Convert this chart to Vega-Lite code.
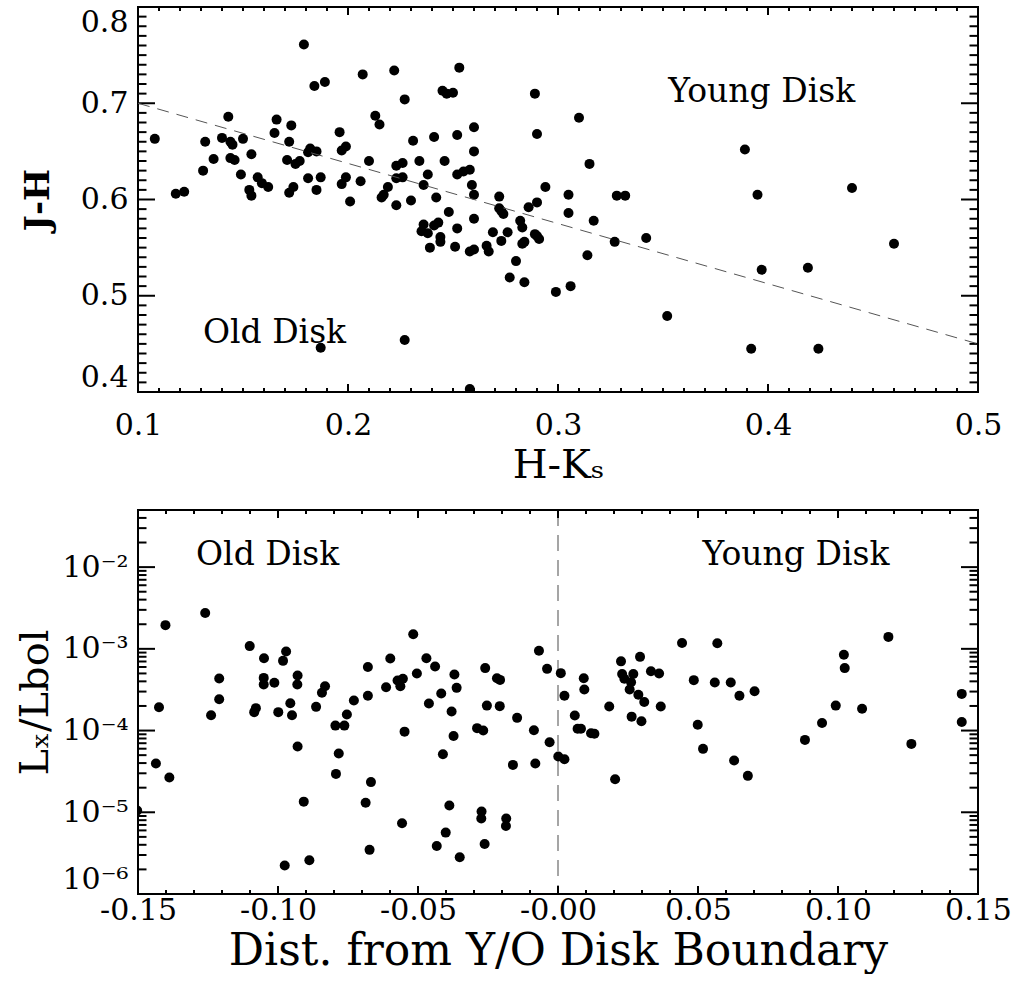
{
  "$schema": "https://vega.github.io/schema/vega-lite/v6.json",
  "background": "white",
  "padding": {"left": 14, "top": 5, "right": 0, "bottom": 0},
  "spacing": 22,
  "config": {
    "view": {"stroke": "#000", "strokeWidth": 2},
    "axis": {
      "labelFont": "DejaVu Serif", "labelFontSize": 30, "labelColor": "#000",
      "titleFont": "DejaVu Serif", "titleFontSize": 40, "titleColor": "#000", "titleFontWeight": "normal",
      "domain": false, "grid": false, "ticks": false, "tickSize": 0,
      "labelOverlap": false, "labelBound": false
    },
    "rule": {"color": "#000", "strokeWidth": 2}
  },
  "datasets": {
    "top": [
      {"hk":0.108,"jh":0.663},{"hk":0.118,"jh":0.606},{"hk":0.122,"jh":0.608},{"hk":0.131,"jh":0.630},{"hk":0.132,"jh":0.660},
      {"hk":0.136,"jh":0.642},{"hk":0.140,"jh":0.664},{"hk":0.143,"jh":0.686},{"hk":0.144,"jh":0.660},{"hk":0.145,"jh":0.657},
      {"hk":0.144,"jh":0.643},{"hk":0.146,"jh":0.641},{"hk":0.150,"jh":0.663},{"hk":0.149,"jh":0.626},{"hk":0.154,"jh":0.647},
      {"hk":0.153,"jh":0.610},{"hk":0.154,"jh":0.604},{"hk":0.157,"jh":0.623},{"hk":0.159,"jh":0.617},{"hk":0.162,"jh":0.613},
      {"hk":0.165,"jh":0.669},{"hk":0.166,"jh":0.683},{"hk":0.171,"jh":0.641},{"hk":0.172,"jh":0.660},{"hk":0.173,"jh":0.677},
      {"hk":0.172,"jh":0.607},{"hk":0.174,"jh":0.613},{"hk":0.175,"jh":0.637},{"hk":0.177,"jh":0.640},{"hk":0.179,"jh":0.761},
      {"hk":0.181,"jh":0.649},{"hk":0.182,"jh":0.653},{"hk":0.185,"jh":0.650},{"hk":0.181,"jh":0.622},{"hk":0.185,"jh":0.610},
      {"hk":0.187,"jh":0.623},{"hk":0.184,"jh":0.718},{"hk":0.189,"jh":0.722},{"hk":0.187,"jh":0.446},{"hk":0.196,"jh":0.670},
      {"hk":0.197,"jh":0.651},{"hk":0.199,"jh":0.655},{"hk":0.197,"jh":0.616},{"hk":0.199,"jh":0.623},{"hk":0.201,"jh":0.598},
      {"hk":0.207,"jh":0.730},{"hk":0.206,"jh":0.619},{"hk":0.210,"jh":0.640},{"hk":0.213,"jh":0.687},{"hk":0.215,"jh":0.678},
      {"hk":0.216,"jh":0.602},{"hk":0.217,"jh":0.605},{"hk":0.219,"jh":0.613},{"hk":0.222,"jh":0.734},{"hk":0.223,"jh":0.594},
      {"hk":0.223,"jh":0.635},{"hk":0.223,"jh":0.622},{"hk":0.226,"jh":0.638},{"hk":0.226,"jh":0.623},{"hk":0.227,"jh":0.704},
      {"hk":0.227,"jh":0.454},{"hk":0.230,"jh":0.599},{"hk":0.231,"jh":0.661},{"hk":0.234,"jh":0.640},{"hk":0.235,"jh":0.567},
      {"hk":0.236,"jh":0.574},{"hk":0.238,"jh":0.565},{"hk":0.236,"jh":0.615},{"hk":0.238,"jh":0.626},{"hk":0.239,"jh":0.550},
      {"hk":0.241,"jh":0.665},{"hk":0.241,"jh":0.573},{"hk":0.243,"jh":0.576},{"hk":0.242,"jh":0.602},{"hk":0.244,"jh":0.561},
      {"hk":0.244,"jh":0.556},{"hk":0.246,"jh":0.640},{"hk":0.245,"jh":0.713},{"hk":0.247,"jh":0.710},{"hk":0.250,"jh":0.711},
      {"hk":0.248,"jh":0.587},{"hk":0.251,"jh":0.551},{"hk":0.252,"jh":0.570},{"hk":0.252,"jh":0.626},{"hk":0.252,"jh":0.667},
      {"hk":0.253,"jh":0.737},{"hk":0.255,"jh":0.629},{"hk":0.258,"jh":0.631},{"hk":0.258,"jh":0.546},{"hk":0.260,"jh":0.548},
      {"hk":0.259,"jh":0.615},{"hk":0.260,"jh":0.605},{"hk":0.260,"jh":0.650},{"hk":0.260,"jh":0.675},{"hk":0.260,"jh":0.580},
      {"hk":0.258,"jh":0.403},{"hk":0.235,"jh":0.394},{"hk":0.266,"jh":0.552},{"hk":0.267,"jh":0.546},{"hk":0.269,"jh":0.566},
      {"hk":0.272,"jh":0.603},{"hk":0.272,"jh":0.591},{"hk":0.273,"jh":0.588},{"hk":0.274,"jh":0.585},{"hk":0.273,"jh":0.557},
      {"hk":0.276,"jh":0.566},{"hk":0.277,"jh":0.519},{"hk":0.280,"jh":0.536},{"hk":0.282,"jh":0.578},{"hk":0.283,"jh":0.571},
      {"hk":0.283,"jh":0.554},{"hk":0.284,"jh":0.556},{"hk":0.284,"jh":0.514},{"hk":0.286,"jh":0.592},{"hk":0.289,"jh":0.564},
      {"hk":0.290,"jh":0.562},{"hk":0.291,"jh":0.559},{"hk":0.290,"jh":0.597},{"hk":0.289,"jh":0.710},{"hk":0.290,"jh":0.668},
      {"hk":0.294,"jh":0.613},{"hk":0.299,"jh":0.504},{"hk":0.310,"jh":0.685},{"hk":0.315,"jh":0.637},{"hk":0.305,"jh":0.605},
      {"hk":0.305,"jh":0.586},{"hk":0.317,"jh":0.578},{"hk":0.314,"jh":0.542},{"hk":0.306,"jh":0.510},{"hk":0.328,"jh":0.604},
      {"hk":0.332,"jh":0.604},{"hk":0.327,"jh":0.556},{"hk":0.342,"jh":0.560},{"hk":0.352,"jh":0.479},{"hk":0.389,"jh":0.652},
      {"hk":0.395,"jh":0.605},{"hk":0.397,"jh":0.527},{"hk":0.392,"jh":0.445},{"hk":0.419,"jh":0.529},{"hk":0.424,"jh":0.445},
      {"hk":0.440,"jh":0.612},{"hk":0.460,"jh":0.554}
    ],
    "boundary": [{"hk":0.1,"jh":0.70},{"hk":0.5,"jh":0.45}],
    "bottom": [
      {"d":-0.1402,"lx":1.95e-3},{"d":-0.1425,"lx":1.93e-4},{"d":-0.1436,"lx":3.95e-5},{"d":-0.1388,"lx":2.66e-5},{"d":-0.1260,"lx":2.74e-3},
      {"d":-0.1239,"lx":1.54e-4},{"d":-0.1210,"lx":4.33e-4},{"d":-0.1210,"lx":2.42e-4},{"d":-0.1101,"lx":1.08e-3},{"d":-0.1050,"lx":7.69e-4},
      {"d":-0.1051,"lx":4.41e-4},{"d":-0.1051,"lx":3.66e-4},{"d":-0.1013,"lx":3.84e-4},{"d":-0.1085,"lx":1.68e-4},{"d":-0.1079,"lx":1.88e-4},
      {"d":-0.0999,"lx":1.68e-4},{"d":-0.0982,"lx":7.13e-4},{"d":-0.0971,"lx":9.27e-4},{"d":-0.0930,"lx":4.71e-4},{"d":-0.0931,"lx":3.66e-4},
      {"d":-0.0956,"lx":2.16e-4},{"d":-0.0950,"lx":1.54e-4},{"d":-0.0930,"lx":6.37e-5},{"d":-0.0908,"lx":1.35e-5},{"d":-0.0976,"lx":2.23e-6},
      {"d":-0.0888,"lx":2.59e-6},{"d":-0.0864,"lx":1.95e-4},{"d":-0.0843,"lx":2.90e-4},{"d":-0.0832,"lx":3.49e-4},{"d":-0.0795,"lx":1.15e-4},
      {"d":-0.0763,"lx":1.15e-4},{"d":-0.0754,"lx":1.57e-4},{"d":-0.0783,"lx":5.24e-5},{"d":-0.0793,"lx":2.95e-5},{"d":-0.0729,"lx":2.33e-4},
      {"d":-0.0679,"lx":6.00e-4},{"d":-0.0679,"lx":2.66e-4},{"d":-0.0668,"lx":2.34e-5},{"d":-0.0687,"lx":1.31e-5},{"d":-0.0673,"lx":3.47e-6},
      {"d":-0.0614,"lx":3.39e-4},{"d":-0.0599,"lx":7.60e-4},{"d":-0.0573,"lx":4.09e-4},{"d":-0.0563,"lx":3.49e-4},{"d":-0.0554,"lx":4.30e-4},
      {"d":-0.0548,"lx":9.70e-5},{"d":-0.0557,"lx":7.35e-6},{"d":-0.0517,"lx":1.51e-3},{"d":-0.0504,"lx":4.99e-4},{"d":-0.0470,"lx":7.69e-4},
      {"d":-0.0461,"lx":2.14e-4},{"d":-0.0439,"lx":6.07e-4},{"d":-0.0417,"lx":2.84e-4},{"d":-0.0411,"lx":5.14e-5},{"d":-0.0388,"lx":1.21e-5},
      {"d":-0.0401,"lx":5.64e-6},{"d":-0.0433,"lx":3.87e-6},{"d":-0.0370,"lx":4.85e-4},{"d":-0.0362,"lx":3.33e-4},{"d":-0.0380,"lx":1.71e-4},
      {"d":-0.0373,"lx":8.60e-5},{"d":-0.0351,"lx":2.82e-6},{"d":-0.0289,"lx":1.07e-4},{"d":-0.0267,"lx":1.00e-4},{"d":-0.0260,"lx":5.81e-4},
      {"d":-0.0254,"lx":2.02e-4},{"d":-0.0273,"lx":1.02e-5},{"d":-0.0274,"lx":8.38e-6},{"d":-0.0262,"lx":4.10e-6},{"d":-0.0218,"lx":4.37e-4},
      {"d":-0.0207,"lx":4.17e-4},{"d":-0.0208,"lx":1.99e-4},{"d":-0.0185,"lx":8.38e-6},{"d":-0.0186,"lx":6.81e-6},{"d":-0.0161,"lx":3.80e-5},
      {"d":-0.0146,"lx":1.43e-4},{"d":-0.0086,"lx":1.01e-4},{"d":-0.0081,"lx":3.95e-5},{"d":-0.0068,"lx":9.46e-4},{"d":-0.0039,"lx":5.69e-4},
      {"d":-0.0030,"lx":7.20e-5},{"d":0.0001,"lx":4.81e-5},{"d":0.0023,"lx":4.46e-5},{"d":0.0010,"lx":5.04e-4},{"d":0.0023,"lx":2.66e-4},
      {"d":0.0060,"lx":1.53e-4},{"d":0.0070,"lx":1.05e-4},{"d":0.0082,"lx":1.05e-4},{"d":0.0092,"lx":4.37e-4},{"d":0.0094,"lx":3.18e-4},
      {"d":0.0118,"lx":9.29e-5},{"d":0.0130,"lx":9.12e-5},{"d":0.0183,"lx":1.97e-4},{"d":0.0204,"lx":2.54e-5},{"d":0.0225,"lx":7.03e-4},
      {"d":0.0229,"lx":4.93e-4},{"d":0.0237,"lx":4.30e-4},{"d":0.0269,"lx":4.93e-4},{"d":0.0261,"lx":3.91e-4},{"d":0.0256,"lx":3.18e-4},
      {"d":0.0293,"lx":7.98e-4},{"d":0.0287,"lx":2.74e-4},{"d":0.0308,"lx":2.24e-4},{"d":0.0263,"lx":1.48e-4},{"d":0.0298,"lx":1.30e-4},
      {"d":0.0332,"lx":5.33e-4},{"d":0.0361,"lx":4.99e-4},{"d":0.0367,"lx":1.97e-4},{"d":0.0443,"lx":1.18e-3},{"d":0.0485,"lx":4.14e-4},
      {"d":0.0499,"lx":1.18e-4},{"d":0.0518,"lx":5.97e-5},{"d":0.0569,"lx":1.17e-3},{"d":0.0560,"lx":3.87e-4},{"d":0.0617,"lx":3.87e-4},
      {"d":0.0648,"lx":2.66e-4},{"d":0.0702,"lx":3.03e-4},{"d":0.0629,"lx":4.30e-5},{"d":0.0678,"lx":2.79e-5},{"d":0.0882,"lx":7.69e-5},
      {"d":0.0943,"lx":1.24e-4},{"d":0.0992,"lx":2.02e-4},{"d":0.1021,"lx":8.45e-4},{"d":0.1024,"lx":5.81e-4},{"d":0.1086,"lx":1.85e-4},
      {"d":0.1180,"lx":1.40e-3},{"d":0.1262,"lx":6.87e-5},{"d":0.1442,"lx":2.81e-4},{"d":0.1442,"lx":1.27e-4},{"d":-0.1503,"lx":1.05e-5}
    ],
    "topXTicks": [
      {"v":0.10,"k":"major"},{"v":0.11,"k":"minor"},{"v":0.12,"k":"minor"},{"v":0.13,"k":"minor"},{"v":0.14,"k":"minor"},{"v":0.15,"k":"minor"},{"v":0.16,"k":"minor"},{"v":0.17,"k":"minor"},{"v":0.18,"k":"minor"},{"v":0.19,"k":"minor"},
      {"v":0.20,"k":"major"},{"v":0.21,"k":"minor"},{"v":0.22,"k":"minor"},{"v":0.23,"k":"minor"},{"v":0.24,"k":"minor"},{"v":0.25,"k":"minor"},{"v":0.26,"k":"minor"},{"v":0.27,"k":"minor"},{"v":0.28,"k":"minor"},{"v":0.29,"k":"minor"},
      {"v":0.30,"k":"major"},{"v":0.31,"k":"minor"},{"v":0.32,"k":"minor"},{"v":0.33,"k":"minor"},{"v":0.34,"k":"minor"},{"v":0.35,"k":"minor"},{"v":0.36,"k":"minor"},{"v":0.37,"k":"minor"},{"v":0.38,"k":"minor"},{"v":0.39,"k":"minor"},
      {"v":0.40,"k":"major"},{"v":0.41,"k":"minor"},{"v":0.42,"k":"minor"},{"v":0.43,"k":"minor"},{"v":0.44,"k":"minor"},{"v":0.45,"k":"minor"},{"v":0.46,"k":"minor"},{"v":0.47,"k":"minor"},{"v":0.48,"k":"minor"},{"v":0.49,"k":"minor"},
      {"v":0.50,"k":"major"}
    ],
    "topYTicks": [
      {"v":0.40,"k":"major"},{"v":0.41,"k":"minor"},{"v":0.42,"k":"minor"},{"v":0.43,"k":"minor"},{"v":0.44,"k":"minor"},{"v":0.45,"k":"minor"},{"v":0.46,"k":"minor"},{"v":0.47,"k":"minor"},{"v":0.48,"k":"minor"},{"v":0.49,"k":"minor"},
      {"v":0.50,"k":"major"},{"v":0.51,"k":"minor"},{"v":0.52,"k":"minor"},{"v":0.53,"k":"minor"},{"v":0.54,"k":"minor"},{"v":0.55,"k":"minor"},{"v":0.56,"k":"minor"},{"v":0.57,"k":"minor"},{"v":0.58,"k":"minor"},{"v":0.59,"k":"minor"},
      {"v":0.60,"k":"major"},{"v":0.61,"k":"minor"},{"v":0.62,"k":"minor"},{"v":0.63,"k":"minor"},{"v":0.64,"k":"minor"},{"v":0.65,"k":"minor"},{"v":0.66,"k":"minor"},{"v":0.67,"k":"minor"},{"v":0.68,"k":"minor"},{"v":0.69,"k":"minor"},
      {"v":0.70,"k":"major"},{"v":0.71,"k":"minor"},{"v":0.72,"k":"minor"},{"v":0.73,"k":"minor"},{"v":0.74,"k":"minor"},{"v":0.75,"k":"minor"},{"v":0.76,"k":"minor"},{"v":0.77,"k":"minor"},{"v":0.78,"k":"minor"},{"v":0.79,"k":"minor"},
      {"v":0.80,"k":"major"}
    ],
    "botXTicks": [
      {"v":-0.15,"k":"major"},{"v":-0.14,"k":"minor"},{"v":-0.13,"k":"minor"},{"v":-0.12,"k":"minor"},{"v":-0.11,"k":"minor"},
      {"v":-0.10,"k":"major"},{"v":-0.09,"k":"minor"},{"v":-0.08,"k":"minor"},{"v":-0.07,"k":"minor"},{"v":-0.06,"k":"minor"},
      {"v":-0.05,"k":"major"},{"v":-0.04,"k":"minor"},{"v":-0.03,"k":"minor"},{"v":-0.02,"k":"minor"},{"v":-0.01,"k":"minor"},
      {"v":0.00,"k":"major"},{"v":0.01,"k":"minor"},{"v":0.02,"k":"minor"},{"v":0.03,"k":"minor"},{"v":0.04,"k":"minor"},
      {"v":0.05,"k":"major"},{"v":0.06,"k":"minor"},{"v":0.07,"k":"minor"},{"v":0.08,"k":"minor"},{"v":0.09,"k":"minor"},
      {"v":0.10,"k":"major"},{"v":0.11,"k":"minor"},{"v":0.12,"k":"minor"},{"v":0.13,"k":"minor"},{"v":0.14,"k":"minor"},
      {"v":0.15,"k":"major"}
    ],
    "botYTicks": [
      {"v":1e-6,"k":"major"},{"v":2e-6,"k":"minor"},{"v":3e-6,"k":"minor"},{"v":4e-6,"k":"minor"},{"v":5e-6,"k":"minor"},{"v":6e-6,"k":"minor"},{"v":7e-6,"k":"minor"},{"v":8e-6,"k":"minor"},{"v":9e-6,"k":"minor"},
      {"v":1e-5,"k":"major"},{"v":2e-5,"k":"minor"},{"v":3e-5,"k":"minor"},{"v":4e-5,"k":"minor"},{"v":5e-5,"k":"minor"},{"v":6e-5,"k":"minor"},{"v":7e-5,"k":"minor"},{"v":8e-5,"k":"minor"},{"v":9e-5,"k":"minor"},
      {"v":1e-4,"k":"major"},{"v":2e-4,"k":"minor"},{"v":3e-4,"k":"minor"},{"v":4e-4,"k":"minor"},{"v":5e-4,"k":"minor"},{"v":6e-4,"k":"minor"},{"v":7e-4,"k":"minor"},{"v":8e-4,"k":"minor"},{"v":9e-4,"k":"minor"},
      {"v":1e-3,"k":"major"},{"v":2e-3,"k":"minor"},{"v":3e-3,"k":"minor"},{"v":4e-3,"k":"minor"},{"v":5e-3,"k":"minor"},{"v":6e-3,"k":"minor"},{"v":7e-3,"k":"minor"},{"v":8e-3,"k":"minor"},{"v":9e-3,"k":"minor"},
      {"v":1e-2,"k":"major"},{"v":2e-2,"k":"minor"},{"v":3e-2,"k":"minor"},{"v":4e-2,"k":"minor"}
    ]
  },
  "vconcat": [
    {
      "width": 840, "height": 385,
      "data": {"name": "top"},
      "layer": [
        {
          "mark": {"type": "circle", "color": "#000", "opacity": 1, "size": 100, "clip": true},
          "encoding": {
            "x": {"field": "hk", "type": "quantitative", "scale": {"domain": [0.1, 0.5], "nice": false, "zero": false},
                  "axis": {"orient": "bottom", "values": [0.1, 0.2, 0.3, 0.4, 0.5], "format": ".1f",
                           "labelPadding": 18, "labelFlush": false, "title": "H-Kₛ", "titlePadding": 5}},
            "y": {"field": "jh", "type": "quantitative", "scale": {"domain": [0.4, 0.8], "nice": false, "zero": false},
                  "axis": {"orient": "left", "values": [0.4, 0.5, 0.6, 0.7, 0.8], "format": ".1f",
                           "labelPadding": 10, "labelFlush": true, "minExtent": 75, "maxExtent": 75,
                           "title": "J-H", "titlePadding": 8, "titleFontWeight": "bold", "titleFontSize": 34}}
          }
        },
        {
          "data": {"name": "topXTicks"}, "transform": [{"filter": "datum.k == 'major'"}],
          "mark": {"type": "rule"},
          "encoding": {
            "x": {"field": "v", "type": "quantitative", "scale": {"domain": [0.1, 0.5], "nice": false, "zero": false}, "axis": null},
            "y": {"datum": 0.4, "type": "quantitative", "scale": {"domain": [0.4, 0.8], "nice": false, "zero": false}, "axis": null},
            "y2": {"datum": 0.408312}
          }
        },
        {
          "data": {"name": "topXTicks"}, "transform": [{"filter": "datum.k == 'minor'"}],
          "mark": {"type": "rule"},
          "encoding": {
            "x": {"field": "v", "type": "quantitative", "scale": {"domain": [0.1, 0.5], "nice": false, "zero": false}, "axis": null},
            "y": {"datum": 0.4, "type": "quantitative", "scale": {"domain": [0.4, 0.8], "nice": false, "zero": false}, "axis": null},
            "y2": {"datum": 0.404156}
          }
        },
        {
          "data": {"name": "topXTicks"}, "transform": [{"filter": "datum.k == 'major'"}],
          "mark": {"type": "rule"},
          "encoding": {
            "x": {"field": "v", "type": "quantitative", "scale": {"domain": [0.1, 0.5], "nice": false, "zero": false}, "axis": null},
            "y": {"datum": 0.8, "type": "quantitative", "scale": {"domain": [0.4, 0.8], "nice": false, "zero": false}, "axis": null},
            "y2": {"datum": 0.791688}
          }
        },
        {
          "data": {"name": "topXTicks"}, "transform": [{"filter": "datum.k == 'minor'"}],
          "mark": {"type": "rule"},
          "encoding": {
            "x": {"field": "v", "type": "quantitative", "scale": {"domain": [0.1, 0.5], "nice": false, "zero": false}, "axis": null},
            "y": {"datum": 0.8, "type": "quantitative", "scale": {"domain": [0.4, 0.8], "nice": false, "zero": false}, "axis": null},
            "y2": {"datum": 0.795844}
          }
        },
        {
          "data": {"name": "topYTicks"}, "transform": [{"filter": "datum.k == 'major'"}],
          "mark": {"type": "rule"},
          "encoding": {
            "y": {"field": "v", "type": "quantitative", "scale": {"domain": [0.4, 0.8], "nice": false, "zero": false}, "axis": null},
            "x": {"datum": 0.1, "type": "quantitative", "scale": {"domain": [0.1, 0.5], "nice": false, "zero": false}, "axis": null},
            "x2": {"datum": 0.108095}
          }
        },
        {
          "data": {"name": "topYTicks"}, "transform": [{"filter": "datum.k == 'minor'"}],
          "mark": {"type": "rule"},
          "encoding": {
            "y": {"field": "v", "type": "quantitative", "scale": {"domain": [0.4, 0.8], "nice": false, "zero": false}, "axis": null},
            "x": {"datum": 0.1, "type": "quantitative", "scale": {"domain": [0.1, 0.5], "nice": false, "zero": false}, "axis": null},
            "x2": {"datum": 0.104048}
          }
        },
        {
          "data": {"name": "topYTicks"}, "transform": [{"filter": "datum.k == 'major'"}],
          "mark": {"type": "rule"},
          "encoding": {
            "y": {"field": "v", "type": "quantitative", "scale": {"domain": [0.4, 0.8], "nice": false, "zero": false}, "axis": null},
            "x": {"datum": 0.5, "type": "quantitative", "scale": {"domain": [0.1, 0.5], "nice": false, "zero": false}, "axis": null},
            "x2": {"datum": 0.491905}
          }
        },
        {
          "data": {"name": "topYTicks"}, "transform": [{"filter": "datum.k == 'minor'"}],
          "mark": {"type": "rule"},
          "encoding": {
            "y": {"field": "v", "type": "quantitative", "scale": {"domain": [0.4, 0.8], "nice": false, "zero": false}, "axis": null},
            "x": {"datum": 0.5, "type": "quantitative", "scale": {"domain": [0.1, 0.5], "nice": false, "zero": false}, "axis": null},
            "x2": {"datum": 0.495952}
          }
        },
        {
          "data": {"name": "boundary"},
          "mark": {"type": "line", "color": "#555", "strokeWidth": 1, "strokeDash": [12, 8], "clip": true},
          "encoding": {
            "x": {"field": "hk", "type": "quantitative", "scale": {"domain": [0.1, 0.5], "nice": false, "zero": false}, "axis": null},
            "y": {"field": "jh", "type": "quantitative", "scale": {"domain": [0.4, 0.8], "nice": false, "zero": false}, "axis": null}
          }
        },
        {
          "data": {"values": [{}]},
          "mark": {"type": "text", "text": "Young Disk", "font": "DejaVu Serif", "fontSize": 33, "color": "#000", "align": "center", "baseline": "middle"},
          "encoding": {
            "x": {"datum": 0.397, "type": "quantitative", "scale": {"domain": [0.1, 0.5], "nice": false, "zero": false}, "axis": null},
            "y": {"datum": 0.712, "type": "quantitative", "scale": {"domain": [0.4, 0.8], "nice": false, "zero": false}, "axis": null}
          }
        },
        {
          "data": {"values": [{}]},
          "mark": {"type": "text", "text": "Old Disk", "font": "DejaVu Serif", "fontSize": 33, "color": "#000", "align": "center", "baseline": "middle"},
          "encoding": {
            "x": {"datum": 0.165, "type": "quantitative", "scale": {"domain": [0.1, 0.5], "nice": false, "zero": false}, "axis": null},
            "y": {"datum": 0.461, "type": "quantitative", "scale": {"domain": [0.4, 0.8], "nice": false, "zero": false}, "axis": null}
          }
        }
      ],
      "resolve": {"scale": {"x": "independent", "y": "independent"}, "axis": {"x": "independent", "y": "independent"}}
    },
    {
      "width": 840, "height": 384,
      "data": {"name": "bottom"},
      "layer": [
        {
          "data": {"values": [{}]},
          "mark": {"type": "rule", "color": "#888", "strokeWidth": 1.5, "strokeDash": [16, 9]},
          "encoding": {
            "x": {"datum": 0, "type": "quantitative", "scale": {"domain": [-0.15, 0.15], "nice": false, "zero": false}, "axis": null}
          }
        },
        {
          "mark": {"type": "circle", "color": "#000", "opacity": 1, "size": 100, "clip": true},
          "encoding": {
            "x": {"field": "d", "type": "quantitative", "scale": {"domain": [-0.15, 0.15], "nice": false, "zero": false},
                  "axis": {"orient": "bottom", "values": [-0.15, -0.1, -0.05, 0, 0.05, 0.1, 0.15],
                           "labelExpr": "abs(datum.value) < 0.0001 ? '-0.00' : datum.value < 0 ? '-' + format(-datum.value, '.2f') : format(datum.value, '.2f')",
                           "labelPadding": 1, "labelFlush": false, "title": "Dist. from Y/O Disk Boundary", "titlePadding": 4, "titleFontSize": 44}},
            "y": {"field": "lx", "type": "quantitative", "scale": {"type": "log", "domain": [1e-6, 0.05], "nice": false},
                  "axis": {"orient": "left", "values": [1e-6, 1e-5, 1e-4, 1e-3, 1e-2],
                           "labelExpr": "'10' + (datum.value < 5e-6 ? '⁻⁶' : datum.value < 5e-5 ? '⁻⁵' : datum.value < 5e-4 ? '⁻⁴' : datum.value < 5e-3 ? '⁻³' : '⁻²')",
                           "labelPadding": 10, "labelFlush": true, "minExtent": 75, "maxExtent": 75,
                           "title": "Lₓ/Lbol", "titlePadding": 8}}
          }
        },
        {
          "data": {"name": "botXTicks"}, "transform": [{"filter": "datum.k == 'major'"}],
          "mark": {"type": "rule"},
          "encoding": {
            "x": {"field": "v", "type": "quantitative", "scale": {"domain": [-0.15, 0.15], "nice": false, "zero": false}, "axis": null},
            "y": {"datum": 1e-6, "type": "quantitative", "scale": {"type": "log", "domain": [1e-6, 0.05], "nice": false}, "axis": null},
            "y2": {"datum": 1.2532e-6}
          }
        },
        {
          "data": {"name": "botXTicks"}, "transform": [{"filter": "datum.k == 'minor'"}],
          "mark": {"type": "rule"},
          "encoding": {
            "x": {"field": "v", "type": "quantitative", "scale": {"domain": [-0.15, 0.15], "nice": false, "zero": false}, "axis": null},
            "y": {"datum": 1e-6, "type": "quantitative", "scale": {"type": "log", "domain": [1e-6, 0.05], "nice": false}, "axis": null},
            "y2": {"datum": 1.1194e-6}
          }
        },
        {
          "data": {"name": "botXTicks"}, "transform": [{"filter": "datum.k == 'major'"}],
          "mark": {"type": "rule"},
          "encoding": {
            "x": {"field": "v", "type": "quantitative", "scale": {"domain": [-0.15, 0.15], "nice": false, "zero": false}, "axis": null},
            "y": {"datum": 0.05, "type": "quantitative", "scale": {"type": "log", "domain": [1e-6, 0.05], "nice": false}, "axis": null},
            "y2": {"datum": 0.039898}
          }
        },
        {
          "data": {"name": "botXTicks"}, "transform": [{"filter": "datum.k == 'minor'"}],
          "mark": {"type": "rule"},
          "encoding": {
            "x": {"field": "v", "type": "quantitative", "scale": {"domain": [-0.15, 0.15], "nice": false, "zero": false}, "axis": null},
            "y": {"datum": 0.05, "type": "quantitative", "scale": {"type": "log", "domain": [1e-6, 0.05], "nice": false}, "axis": null},
            "y2": {"datum": 0.044667}
          }
        },
        {
          "data": {"name": "botYTicks"}, "transform": [{"filter": "datum.k == 'major'"}],
          "mark": {"type": "rule"},
          "encoding": {
            "y": {"field": "v", "type": "quantitative", "scale": {"type": "log", "domain": [1e-6, 0.05], "nice": false}, "axis": null},
            "x": {"datum": -0.15, "type": "quantitative", "scale": {"domain": [-0.15, 0.15], "nice": false, "zero": false}, "axis": null},
            "x2": {"datum": -0.143929}
          }
        },
        {
          "data": {"name": "botYTicks"}, "transform": [{"filter": "datum.k == 'minor'"}],
          "mark": {"type": "rule"},
          "encoding": {
            "y": {"field": "v", "type": "quantitative", "scale": {"type": "log", "domain": [1e-6, 0.05], "nice": false}, "axis": null},
            "x": {"datum": -0.15, "type": "quantitative", "scale": {"domain": [-0.15, 0.15], "nice": false, "zero": false}, "axis": null},
            "x2": {"datum": -0.146964}
          }
        },
        {
          "data": {"name": "botYTicks"}, "transform": [{"filter": "datum.k == 'major'"}],
          "mark": {"type": "rule"},
          "encoding": {
            "y": {"field": "v", "type": "quantitative", "scale": {"type": "log", "domain": [1e-6, 0.05], "nice": false}, "axis": null},
            "x": {"datum": 0.15, "type": "quantitative", "scale": {"domain": [-0.15, 0.15], "nice": false, "zero": false}, "axis": null},
            "x2": {"datum": 0.143929}
          }
        },
        {
          "data": {"name": "botYTicks"}, "transform": [{"filter": "datum.k == 'minor'"}],
          "mark": {"type": "rule"},
          "encoding": {
            "y": {"field": "v", "type": "quantitative", "scale": {"type": "log", "domain": [1e-6, 0.05], "nice": false}, "axis": null},
            "x": {"datum": 0.15, "type": "quantitative", "scale": {"domain": [-0.15, 0.15], "nice": false, "zero": false}, "axis": null},
            "x2": {"datum": 0.146964}
          }
        },
        {
          "data": {"values": [{}]},
          "mark": {"type": "text", "text": "Old Disk", "font": "DejaVu Serif", "fontSize": 33, "color": "#000", "align": "center", "baseline": "middle"},
          "encoding": {
            "x": {"datum": -0.1037, "type": "quantitative", "scale": {"domain": [-0.15, 0.15], "nice": false, "zero": false}, "axis": null},
            "y": {"datum": 0.0139, "type": "quantitative", "scale": {"type": "log", "domain": [1e-6, 0.05], "nice": false}, "axis": null}
          }
        },
        {
          "data": {"values": [{}]},
          "mark": {"type": "text", "text": "Young Disk", "font": "DejaVu Serif", "fontSize": 33, "color": "#000", "align": "center", "baseline": "middle"},
          "encoding": {
            "x": {"datum": 0.085, "type": "quantitative", "scale": {"domain": [-0.15, 0.15], "nice": false, "zero": false}, "axis": null},
            "y": {"datum": 0.0139, "type": "quantitative", "scale": {"type": "log", "domain": [1e-6, 0.05], "nice": false}, "axis": null}
          }
        }
      ],
      "resolve": {"scale": {"x": "independent", "y": "independent"}, "axis": {"x": "independent", "y": "independent"}}
    }
  ]
}
